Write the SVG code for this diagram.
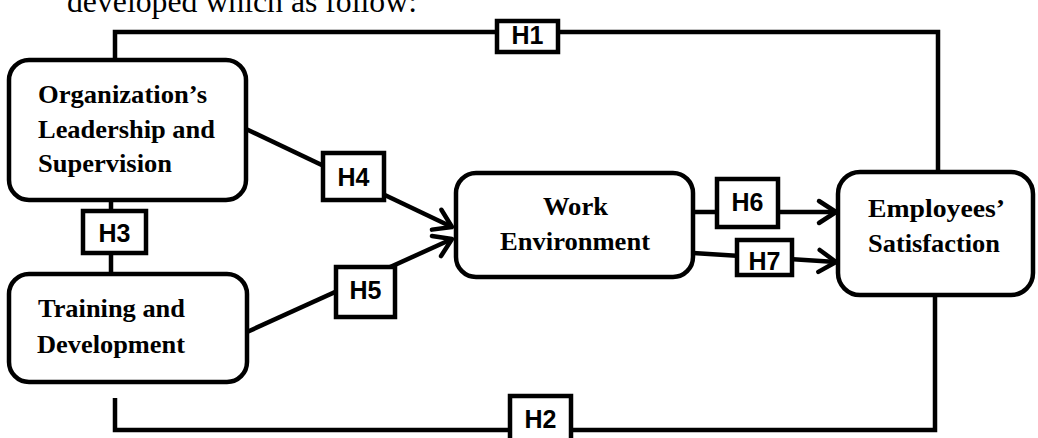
<svg xmlns="http://www.w3.org/2000/svg" width="1038" height="438" viewBox="0 0 1038 438">
<style>
.node{fill:#fff;stroke:#000;stroke-width:4.5}
.nt{font-family:"Liberation Serif","Times New Roman",serif;font-weight:bold;font-size:25px;fill:#000}
.lb{fill:#fff;stroke:#000;stroke-width:4.5}
.lt{font-family:"Liberation Sans",Arial,sans-serif;font-weight:bold;font-size:25px;fill:#000;text-anchor:middle}
.cn{fill:none;stroke:#000;stroke-width:4.5;stroke-linejoin:miter}
.hd{font-family:"Liberation Serif","Times New Roman",serif;font-size:31px;fill:#000}
</style>
<defs>
<marker id="arr" markerUnits="userSpaceOnUse" markerWidth="30" markerHeight="30" viewBox="-24 -15 30 30" refX="0" refY="0" orient="auto" overflow="visible">
<path d="M-17,-11 L0,0 L-17,11" fill="none" stroke="#000" stroke-width="4.5" stroke-linecap="round" stroke-linejoin="round"/>
</marker>
</defs>
<rect width="1038" height="438" fill="#fff"/>
<text class="hd" x="67" y="12" textLength="350" lengthAdjust="spacingAndGlyphs">developed which as follow:</text>

<g id="connectors">
<path class="cn" d="M115,62 V32 H938 V172"/>
<path class="cn" d="M115,398 V430 H935 V296"/>
<path class="cn" d="M111,200 V274"/>
<path class="cn" d="M246,129 L452,227" marker-end="url(#arr)"/>
<path class="cn" d="M247,332 L452,239" marker-end="url(#arr)"/>
<path class="cn" d="M693,212 L836,212" marker-end="url(#arr)"/>
<path class="cn" d="M693,253 L836,262" marker-end="url(#arr)"/>
</g>

<g id="label-H1"><rect class="lb" x="497" y="21" width="61" height="31"/><text class="lt" x="527.5" y="44">H1</text></g>
<g id="label-H2"><rect class="lb" x="510" y="396" width="61" height="50"/><text class="lt" x="540.5" y="428">H2</text></g>
<g id="label-H3"><rect class="lb" x="83" y="211" width="63" height="42"/><text class="lt" x="114.5" y="242">H3</text></g>
<g id="label-H4"><rect class="lb" x="323" y="153" width="61" height="47"/><text class="lt" x="353.5" y="186">H4</text></g>
<g id="label-H5"><rect class="lb" x="336" y="267" width="59" height="50"/><text class="lt" x="365.5" y="299">H5</text></g>
<g id="label-H6"><rect class="lb" x="717" y="179" width="61" height="48"/><text class="lt" x="747.5" y="211">H6</text></g>
<g id="label-H7"><rect class="lb" x="737" y="240" width="55" height="35"/><text class="lt" x="764.5" y="270">H7</text></g>

<g id="node-org">
<rect class="node" x="9" y="60" width="237" height="140" rx="20"/>
<text class="nt" x="38" y="103" textLength="169" lengthAdjust="spacingAndGlyphs">Organization’s</text>
<text class="nt" x="38" y="138" textLength="177" lengthAdjust="spacingAndGlyphs">Leadership and</text>
<text class="nt" x="38" y="172" textLength="134" lengthAdjust="spacingAndGlyphs">Supervision</text>
</g>
<g id="node-training">
<rect class="node" x="9" y="274" width="238" height="108" rx="20"/>
<text class="nt" x="38" y="317" textLength="147" lengthAdjust="spacingAndGlyphs">Training and</text>
<text class="nt" x="37" y="353" textLength="148" lengthAdjust="spacingAndGlyphs">Development</text>
</g>
<g id="node-work">
<rect class="node" x="456" y="173" width="237" height="104" rx="20"/>
<text class="nt" x="543" y="215" textLength="65" lengthAdjust="spacingAndGlyphs">Work</text>
<text class="nt" x="500" y="250" textLength="150" lengthAdjust="spacingAndGlyphs">Environment</text>
</g>
<g id="node-employees">
<rect class="node" x="838" y="172" width="195" height="123" rx="22"/>
<text class="nt" x="868" y="217" textLength="137" lengthAdjust="spacingAndGlyphs">Employees’</text>
<text class="nt" x="868" y="252" textLength="132" lengthAdjust="spacingAndGlyphs">Satisfaction</text>
</g>
</svg>
